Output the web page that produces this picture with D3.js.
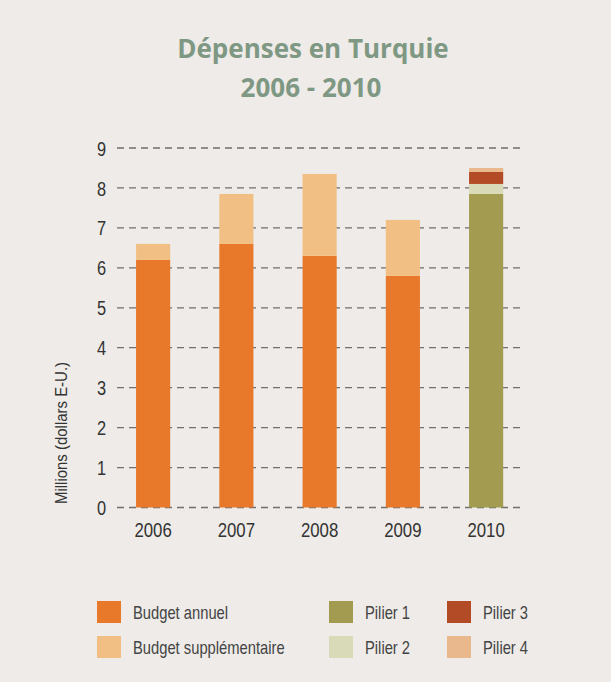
<!DOCTYPE html>
<html>
<head>
<meta charset="utf-8">
<script src="https://cdn.jsdelivr.net/npm/d3@7"></script>
<style>
  body { margin: 0; background: #eeebe8; }
  svg { display: block; }
</style>
</head>
<body>
<svg id="canvas"></svg>
<script>
// data
const years = ["2006", "2007", "2008", "2009", "2010"];
const budgetAnnuel = [6.2, 6.6, 6.3, 5.8, 0];
const budgetSupp = [0.4, 1.25, 2.05, 1.4, 0];
const pilier1 = [0, 0, 0, 0, 7.85];
const pilier2 = [0, 0, 0, 0, 0.25];
const pilier3 = [0, 0, 0, 0, 0.3];
const pilier4 = [0, 0, 0, 0, 0.1];
const yTicks = [0, 1, 2, 3, 4, 5, 6, 7, 8, 9];

const keys = ["Budget annuel", "Budget supplémentaire", "Pilier 1", "Pilier 2", "Pilier 3", "Pilier 4"];
const seriesValues = [budgetAnnuel, budgetSupp, pilier1, pilier2, pilier3, pilier4];

const width = 611, height = 682;
const svg = d3.select("#canvas").attr("width", width).attr("height", height);

// condensed look: Liberation Sans squeezed horizontally
const condFont = "'Liberation Sans', Arial, sans-serif";

svg.append("rect").attr("width", width).attr("height", height).attr("fill", "#eeebe8");

// build rows for the stack
const data = years.map((y, i) => {
    const row = { year: y };
    keys.forEach((k, j) => row[k] = seriesValues[j][i]);
    return row;
});
const series = d3.stack().keys(keys)(data);

const x = d3.scaleBand()
    .domain(years)
    .range([111.5, 527.75])
    .paddingInner(0.59)
    .paddingOuter(0.295);

const y = d3.scaleLinear()
    .domain([0, 9])
    .range([507.5, 148]);

const color = d3.scaleOrdinal()
    .domain(keys)
    .range(["#e8792b", "#f1bf84", "#a39b4f", "#d9dab7", "#b24b26", "#e9b98d"]);

// title
const title = svg.append("text")
    .attr("text-anchor", "middle")
    .attr("font-family", "'Open Sans', sans-serif")
    .attr("font-weight", "bold")
    .attr("font-size", 26)
    .attr("fill", "#7e9884");
title.append("tspan").attr("x", 313).attr("y", 58).text("Dépenses en Turquie");
title.append("tspan").attr("x", 311).attr("y", 97).text("2006 - 2010");

// dashed gridlines
svg.append("g")
    .selectAll("line")
    .data(yTicks)
    .join("line")
    .attr("x1", 117).attr("x2", 522)
    .attr("y1", d => y(d)).attr("y2", d => y(d))
    .attr("stroke", "#6f6f6f")
    .attr("stroke-width", 1.3)
    .attr("stroke-dasharray", "7 5");

// y tick labels
svg.append("g")
    .selectAll("text")
    .data(yTicks)
    .join("text")
    .attr("transform", d => `translate(106,${y(d)}) scale(0.78,1)`)
    .attr("dy", "0.36em")
    .attr("text-anchor", "end")
    .attr("font-family", condFont)
    .attr("font-size", 21)
    .attr("fill", "#333")
    .text(d => d);

// bars
svg.append("g")
    .selectAll("g")
    .data(series)
    .join("g")
    .attr("fill", d => color(d.key))
    .selectAll("rect")
    .data(d => d)
    .join("rect")
    .attr("x", d => x(d.data.year))
    .attr("y", d => y(d[1]))
    .attr("width", x.bandwidth())
    .attr("height", d => y(d[0]) - y(d[1]));

// x labels
svg.append("g")
    .selectAll("text")
    .data(years)
    .join("text")
    .attr("transform", d => `translate(${x(d) + x.bandwidth() / 2},537) scale(0.84,1)`)
    .attr("text-anchor", "middle")
    .attr("font-family", condFont)
    .attr("font-size", 20)
    .attr("fill", "#333")
    .text(d => d);

// y axis title
svg.append("text")
    .attr("transform", "translate(67,433) rotate(-90) scale(0.88,1)")
    .attr("text-anchor", "middle")
    .attr("font-family", condFont)
    .attr("font-size", 17)
    .attr("fill", "#333")
    .text("Millions (dollars E-U.)");

// legend
const legendPos = [
    [97, 601], [97, 636], [329, 601], [329, 636], [447, 601], [447, 636]
];
const legend = svg.append("g")
    .selectAll("g")
    .data(keys)
    .join("g")
    .attr("transform", (d, i) => `translate(${legendPos[i][0]},${legendPos[i][1]})`);

legend.append("rect")
    .attr("width", 24).attr("height", 22)
    .attr("fill", d => color(d));

legend.append("text")
    .attr("transform", "translate(36,18) scale(0.82,1)")
    .attr("font-family", condFont)
    .attr("font-size", 18)
    .attr("fill", "#444")
    .text(d => d);
</script>
</body>
</html>
